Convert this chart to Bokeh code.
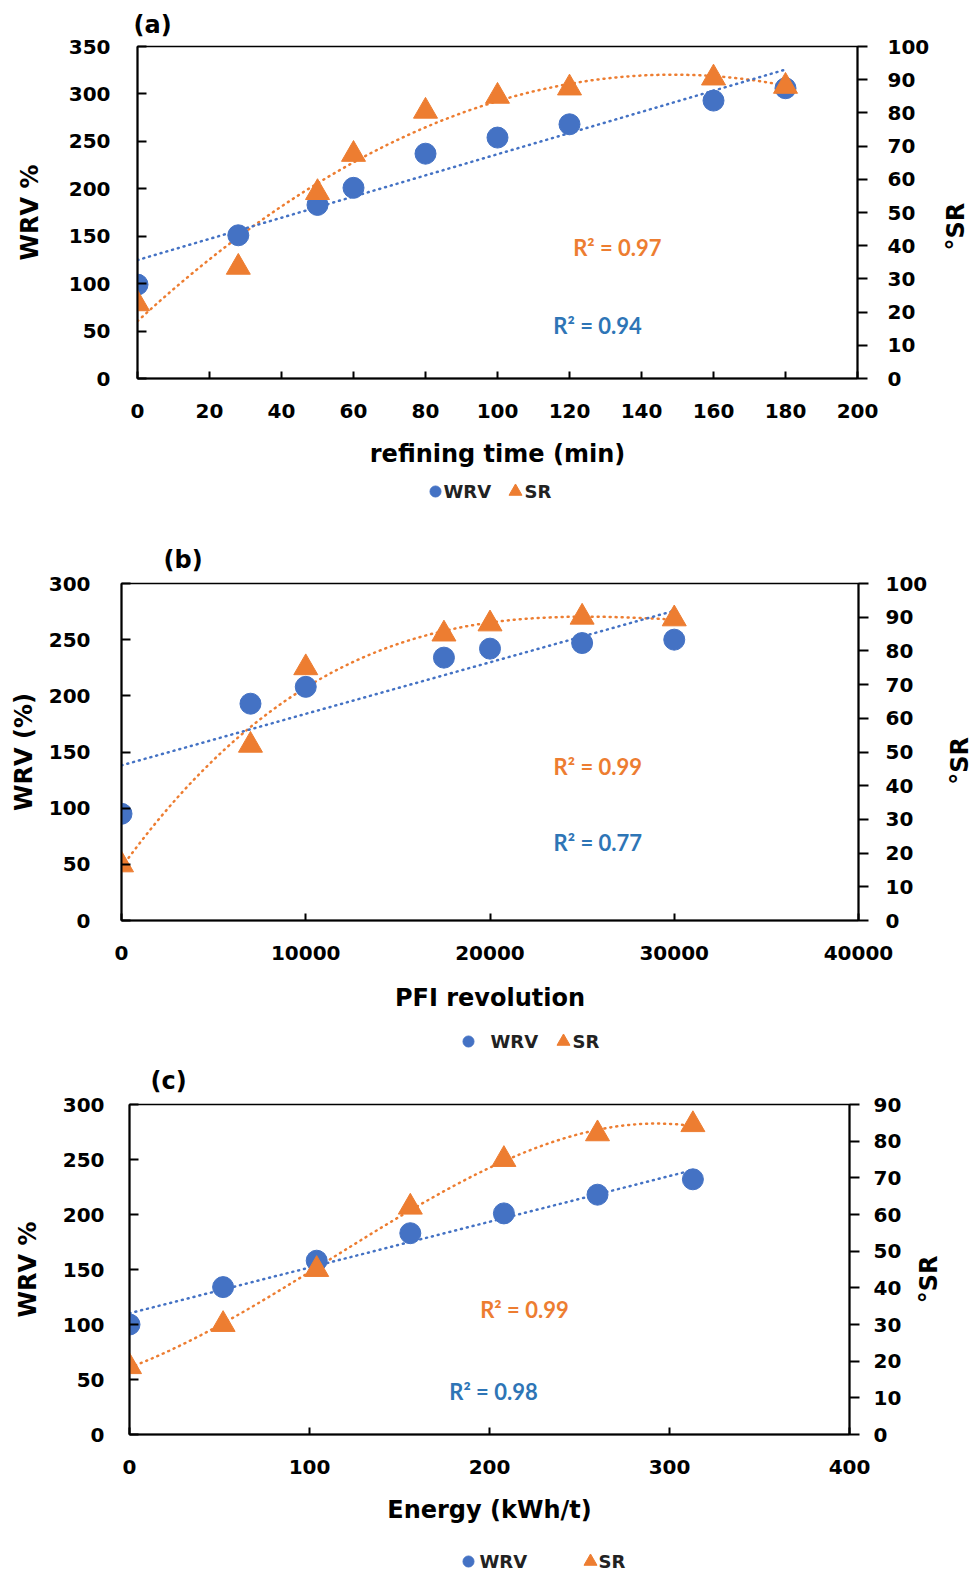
import numpy as np
from bokeh.plotting import figure
from bokeh.models import Range1d, LinearAxis, Label, FixedTicker
from bokeh.layouts import column, row
from bokeh.core.properties import value
from bokeh.embed import file_html
from bokeh.resources import INLINE

# ---------------- data ----------------
# (a) refining time
time_min = [0, 28, 50, 60, 80, 100, 120, 160, 180]
wrv_a = [99, 151, 183, 201, 237, 254, 268, 293, 306]
sr_a = [22.5, 33.5, 56, 67.5, 80.5, 85, 87.5, 90.5, 88]

# (b) PFI revolution
pfi_rev = [0, 7000, 10000, 17500, 20000, 25000, 30000]
wrv_b = [95, 193, 208, 234, 242, 247, 250]
sr_b = [16.5, 52, 75, 85, 88, 90, 89.5]

# (c) energy
energy = [0, 52, 104, 156, 208, 260, 313]
wrv_c = [100, 134, 158, 183, 201, 218, 232]
sr_c = [18.5, 30, 45, 62, 75, 82, 84.5]

x_ticks_a = [0, 20, 40, 60, 80, 100, 120, 140, 160, 180, 200]
y_ticks_a = [0, 50, 100, 150, 200, 250, 300, 350]
sr_ticks_a = [0, 10, 20, 30, 40, 50, 60, 70, 80, 90, 100]
x_ticks_b = [0, 10000, 20000, 30000, 40000]
y_ticks_b = [0, 50, 100, 150, 200, 250, 300]
sr_ticks_b = [0, 10, 20, 30, 40, 50, 60, 70, 80, 90, 100]
x_ticks_c = [0, 100, 200, 300, 400]
y_ticks_c = [0, 50, 100, 150, 200, 250, 300]
sr_ticks_c = [0, 10, 20, 30, 40, 50, 60, 70, 80, 90]

r2_labels_a = ["R\u00b2 = 0.97", "R\u00b2 = 0.94"]
r2_labels_b = ["R\u00b2 = 0.99", "R\u00b2 = 0.77"]
r2_labels_c = ["R\u00b2 = 0.99", "R\u00b2 = 0.98"]
legend_labels = ["WRV", "SR"]

BLUE = "#4472C4"
ORANGE = "#ED7D31"
R2_BLUE = "#2E75B6"
FONT = "DejaVu Sans"
PAGE_W = 974


def style_axis(ax, ticks, tick_in, tick_out, lab_std, title, title_std):
    ax.ticker = FixedTicker(ticks=ticks)
    ax.minor_tick_line_color = None
    ax.major_tick_in = tick_in
    ax.major_tick_out = tick_out
    ax.axis_line_width = 2
    ax.major_tick_line_width = 2
    ax.major_label_text_font = FONT
    ax.major_label_text_font_size = "20px"
    ax.major_label_text_font_style = "bold"
    ax.major_label_text_color = "black"
    ax.major_label_standoff = lab_std
    ax.axis_label = title
    ax.axis_label_text_font = FONT
    ax.axis_label_text_font_size = "24px"
    ax.axis_label_text_font_style = "bold"
    ax.axis_label_text_color = "black"
    ax.axis_label_standoff = title_std


def bare(p):
    p.toolbar_location = None
    p.outline_line_color = None
    p.background_fill_color = "white"
    p.border_fill_color = "white"
    try:
        p.grid.visible = False
    except Exception:
        pass


def make_panel(tag, x, wrv, sr, xmax, ymax, srmax, xt, yt, srt, xtitle, ytitle,
               r2, r2_pos_o, r2_pos_b, sr_deg, g):
    left, right, top, bottom = g["borders"]
    p = figure(width=g["w"], height=g["h"], output_backend="svg", toolbar_location=None,
               x_range=Range1d(0, xmax), y_range=Range1d(0, ymax),
               min_border_left=left, min_border_right=right,
               min_border_top=top, min_border_bottom=bottom, title=tag)
    p.extra_y_ranges = {"sr": Range1d(0, srmax)}
    p.xgrid.visible = False
    p.ygrid.visible = False
    p.outline_line_color = "black"
    p.outline_line_width = 1.5
    p.background_fill_color = "white"
    p.border_fill_color = "white"

    p.title.align = "left"
    p.title.offset = g["t_off"]
    p.title.text_font = FONT
    p.title.text_font_size = "24px"
    p.title.text_font_style = "bold"
    p.title.text_color = "black"
    p.title.standoff = g["t_std"]

    style_axis(p.xaxis[0], xt, 7, 0, g["xl"], xtitle, g["xt"])
    style_axis(p.yaxis[0], yt, 9, 0, g["yl"], ytitle, g["yt"])
    ra = LinearAxis(y_range_name="sr")
    style_axis(ra, srt, 0, 10, g["rl"], None, 0)
    p.add_layout(ra, "right")

    # trend lines: least-squares fits of the plotted data
    xs = np.linspace(min(x), max(x), 300)
    cb = np.polyfit(x, wrv, 1)
    co = np.polyfit(x, sr, sr_deg)
    p.line(xs, np.polyval(co, xs), y_range_name="sr", line_color=ORANGE,
           line_width=2.5, line_dash="1 5", line_cap="round")
    p.line(xs, np.polyval(cb, xs), line_color=BLUE, line_width=2.5,
           line_dash="1 5", line_cap="round")

    p.scatter(x, wrv, marker="circle", size=21, fill_color=BLUE, line_color=BLUE)
    p.scatter(x, sr, marker="triangle", size=24, y_range_name="sr",
              fill_color=ORANGE, line_color=ORANGE)

    p.add_layout(Label(x=r2_pos_o[0], y=r2_pos_o[1], text=r2[0], text_align="center",
                       text_baseline="middle", text_font="Lato", text_font_size="22px",
                       text_font_style="bold", text_color=ORANGE))
    p.add_layout(Label(x=r2_pos_b[0], y=r2_pos_b[1], text=r2[1], text_align="center",
                       text_baseline="middle", text_font="Lato", text_font_size="22px",
                       text_font_style="bold", text_color=R2_BLUE))

    # right-hand axis title, written bottom-to-top beside the secondary axis
    sw = PAGE_W - g["w"]
    s = figure(width=sw, height=g["h"], output_backend="svg", toolbar_location=None,
               x_range=Range1d(0, sw), y_range=Range1d(0, ymax),
               min_border_left=0, min_border_right=0,
               min_border_top=top, min_border_bottom=bottom,
               x_axis_location=None, y_axis_location=None)
    bare(s)
    s.text(x=[g["sr_x"]], y=[g["sr_y"]], text=["\u00b0SR"], angle=np.pi / 2,
           text_align="center", text_baseline="middle", text_font=value(FONT),
           text_font_size="24px", text_font_style="bold", text_color="black")

    # legend strip under the chart
    hs = g["leg_h"]
    lg = figure(width=PAGE_W, height=hs, output_backend="svg", toolbar_location=None,
                x_range=Range1d(0, PAGE_W), y_range=Range1d(0, hs),
                min_border=0, min_border_left=0, min_border_right=0,
                min_border_top=0, min_border_bottom=0,
                x_axis_location=None, y_axis_location=None)
    bare(lg)
    cx, tx1, trx, tx2 = g["leg_x"]
    ly = g["leg_y"]
    lg.scatter([cx], [ly], marker="circle", size=11, fill_color=BLUE, line_color=BLUE)
    lg.scatter([trx], [ly], marker="triangle", size=13, fill_color=ORANGE, line_color=ORANGE)
    lg.text(x=[tx1, tx2], y=[ly, ly], text=legend_labels, text_align="left",
            text_baseline="middle", text_font=value(FONT), text_font_size="18px",
            text_font_style="bold", text_color="#222222")
    return column(row(p, s, spacing=0), lg, spacing=0)


pa = make_panel("(a)", time_min, wrv_a, sr_a, 200, 350, 100,
                x_ticks_a, y_ticks_a, sr_ticks_a,
                "refining time (min)", "WRV %", r2_labels_a,
                (133.3, 138), (127.8, 56), 2,
                dict(w=932, h=474, borders=(137, 75, 46, 96), t_off=-4, t_std=15,
                     xl=25, xt=19, yl=27, yt=22, rl=20,
                     sr_x=23, sr_y=160, leg_h=36, leg_y=19,
                     leg_x=(435, 443, 515, 524)))

pb = make_panel("(b)", pfi_rev, wrv_b, sr_b, 40000, 300, 100,
                x_ticks_b, y_ticks_b, sr_ticks_b,
                "PFI revolution", "WRV (%)", r2_labels_b,
                (25850, 137), (25850, 69.5), 3,
                dict(w=934, h=508, borders=(121, 76, 73, 98), t_off=42, t_std=19,
                     xl=25, xt=21, yl=31, yt=8, rl=17,
                     sr_x=25, sr_y=142, leg_h=36, leg_y=13,
                     leg_x=(468, 490, 563, 572)))

pc = make_panel("(c)", energy, wrv_c, sr_c, 400, 300, 90,
                x_ticks_c, y_ticks_c, sr_ticks_c,
                "Energy (kWh/t)", "WRV %", r2_labels_c,
                (219.4, 113.7), (202.2, 39.4), 3,
                dict(w=910, h=476, borders=(129, 61, 45, 96), t_off=21, t_std=20,
                     xl=25, xt=19, yl=25, yt=18, rl=14,
                     sr_x=18, sr_y=141, leg_h=42, leg_y=11,
                     leg_x=(468, 479, 590, 598)))

layout = column(pa, pb, pc, spacing=0)
open("out.html", "w").write(file_html(layout, INLINE))
